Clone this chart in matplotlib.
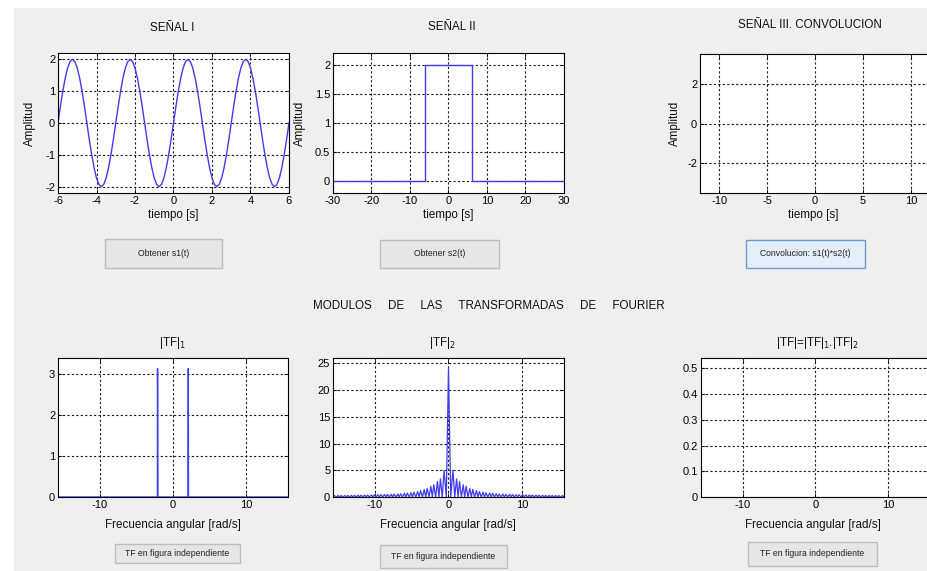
import numpy as np
import matplotlib
matplotlib.use('Agg')
import matplotlib.pyplot as plt
from matplotlib.patches import Rectangle
from matplotlib.ticker import FuncFormatter

plt.rcParams['font.family'] = ['Liberation Sans', 'DejaVu Sans']
plt.rcParams['axes.unicode_minus'] = False

W, H = 928, 571

# ---- datos ----
# senal I : 2 sen(...) muestreada cada 0.125 s
t1 = np.linspace(-6, 6, 97)
s1_ciclo = [0.0, 0.52, 1.0, 1.41, 1.73, 1.93, 2.0, 1.93, 1.73, 1.41, 1.0, 0.52,
            0.0, -0.52, -1.0, -1.41, -1.73, -1.93, -2.0, -1.93, -1.73, -1.41, -1.0, -0.52]
s1 = s1_ciclo * 4 + [0.0]

# senal II : pulso rectangular
t2 = [-30, -6, -6, 6, 6, 30]
s2 = [0, 0, 2, 2, 0, 0]

# |TF|1 : dos rayas en +-2.09 rad/s
w1 = [-15.71, -2.13, -2.11, -2.09, -2.07, 2.07, 2.09, 2.11, 15.71]
tf1 = [0, 0, 3.14, 1.57, 0, 0, 3.14, 0, 0]

# |TF|2 : lobulos (lado positivo, simetrico)
tf2_centro = 24.0
w2_picos = [0.6, 1.1, 1.5, 2.0, 2.4, 2.9, 3.3, 3.8, 4.2, 4.7, 5.1, 5.6, 6.0, 6.5,
            6.9, 7.4, 7.8, 8.3, 8.7, 9.2, 9.6, 10.1, 10.5, 11.0, 11.4, 11.9,
            12.3, 12.8, 13.2, 13.7, 14.1, 14.6, 15.0, 15.5]
tf2_picos = [5.0, 3.4, 2.9, 2.3, 2.0, 1.6, 1.4, 1.2, 1.0, 0.9, 0.8, 0.75, 0.7, 0.6,
             0.57, 0.54, 0.5, 0.48, 0.46, 0.43, 0.42, 0.4, 0.38, 0.36, 0.35, 0.34,
             0.33, 0.31, 0.3, 0.29, 0.28, 0.27, 0.27, 0.26]

wmax = 15.71

blue = '#3d3dee'
bg = '#efefef'


def fx(px):
    return px / W


def fy(py):
    return 1 - py / H


def ax_px(x0, x1, y0, y1):
    return [fx(x0), fy(y1), (x1 - x0) / W, (y1 - y0) / H]


fig = plt.figure(figsize=(W / 100, H / 100), dpi=100, facecolor='white')
fig.patches.append(Rectangle((fx(14), 0), 1 - fx(14), fy(8), transform=fig.transFigure,
                             facecolor=bg, edgecolor='none', zorder=-10))

fmt = FuncFormatter(lambda v, p: '%g' % round(v, 6))


def style(ax, xlim, xt, ylim, yt):
    ax.set_facecolor('white')
    ax.set_xlim(*xlim)
    ax.set_ylim(*ylim)
    ax.set_xticks(xt)
    ax.set_yticks(yt)
    ax.xaxis.set_major_formatter(fmt)
    ax.yaxis.set_major_formatter(fmt)
    ax.grid(True, linestyle=(0, (2, 2)), color='#1a1a1a', linewidth=0.8)
    ax.tick_params(direction='in', length=3, width=0.6, labelsize=8, pad=2,
                   top=True, right=True, colors='black')
    for s in ax.spines.values():
        s.set_linewidth(0.8)


ax1 = fig.add_axes(ax_px(58, 289, 53, 193))
ax2 = fig.add_axes(ax_px(333, 564, 53, 193))
ax3 = fig.add_axes(ax_px(700, 930, 54, 193))
ax4 = fig.add_axes(ax_px(58, 288, 358, 497))
ax5 = fig.add_axes(ax_px(333, 564, 358, 497))
ax6 = fig.add_axes(ax_px(701, 930, 358, 497))

ax1.plot(t1, s1, color=blue, lw=1)
style(ax1, (-6, 6), range(-6, 7, 2), (-2.2, 2.2), range(-2, 3))

ax2.plot(t2, s2, color=blue, lw=1)
style(ax2, (-30, 30), range(-30, 31, 10), (-0.2, 2.2), [0, 0.5, 1, 1.5, 2])

style(ax3, (-12, 12), range(-10, 11, 5), (-3.5, 3.5), [-2, 0, 2])

ax4.plot(w1, tf1, color=blue, lw=1)
style(ax4, (-wmax, wmax), [-10, 0, 10], (0, 3.4), range(0, 4))

# serie |TF|2: picos simetricos con ceros entre ellos
pk_w = np.concatenate([-np.array(w2_picos[::-1]), [0.0], w2_picos])
pk_v = np.concatenate([tf2_picos[::-1], [tf2_centro], tf2_picos])
mid = (pk_w[:-1] + pk_w[1:]) / 2
w2 = np.empty(pk_w.size + mid.size)
v2 = np.zeros_like(w2)
w2[0::2] = pk_w
w2[1::2] = mid
v2[0::2] = pk_v
w2 = np.concatenate([[-wmax], w2, [wmax]])
v2 = np.concatenate([[0], v2, [0]])
ax5.plot(w2, v2, color=blue, lw=0.9)
style(ax5, (-wmax, wmax), [-10, 0, 10], (0, 26), range(0, 26, 5))

style(ax6, (-wmax, wmax), [-10, 0, 10], (0, 0.54), [0, 0.1, 0.2, 0.3, 0.4, 0.5])

tk = dict(fontsize=8.4, ha='center', va='center', color='#111111')

# titulos
fig.text(fx(172), fy(28), 'SEÑAL I', **tk)
fig.text(fx(452), fy(27), 'SEÑAL II', **tk)
fig.text(fx(810), fy(25), 'SEÑAL III. CONVOLUCION', **tk)
fig.text(fx(172), fy(343), '|TF|$_1$', **tk)
fig.text(fx(442), fy(343), '|TF|$_2$', **tk)
fig.text(fx(817), fy(343), '|TF|=|TF|$_1$.|TF|$_2$', **tk)
fig.text(fx(489), fy(306), 'MODULOS     DE     LAS     TRANSFORMADAS     DE     FOURIER', **tk)

# ejes
for x in (30, 300, 675):
    fig.text(fx(x), fy(123), 'Amplitud', rotation=90, **tk)
for x in (173, 448, 813):
    fig.text(fx(x), fy(215), 'tiempo [s]', **tk)
    fig.text(fx(x), fy(525), 'Frecuencia angular [rad/s]', **tk)

# botones
botones = [
    (105, 239, 222, 268, 'Obtener s1(t)', False),
    (380, 240, 499, 268, 'Obtener s2(t)', False),
    (746, 240, 865, 268, 'Convolucion: s1(t)*s2(t)', True),
    (115, 544, 240, 563, 'TF en figura independiente', False),
    (380, 545, 507, 568, 'TF en figura independiente', False),
    (748, 542, 877, 566, 'TF en figura independiente', False),
]
for x0, y0, x1, y1, txt, foco in botones:
    fc = '#e3eef8' if foco else '#e6e6e6'
    ec = '#6d9ccf' if foco else '#bdbdbd'
    fig.patches.append(Rectangle((fx(x0), fy(y1)), (x1 - x0) / W, (y1 - y0) / H,
                                 transform=fig.transFigure, facecolor=fc,
                                 edgecolor=ec, linewidth=1))
    fig.text(fx((x0 + x1) / 2), fy((y0 + y1) / 2), txt, fontsize=6.2,
             ha='center', va='center', color='#222222')

fig.savefig('out.png', dpi=100, facecolor=fig.get_facecolor())
